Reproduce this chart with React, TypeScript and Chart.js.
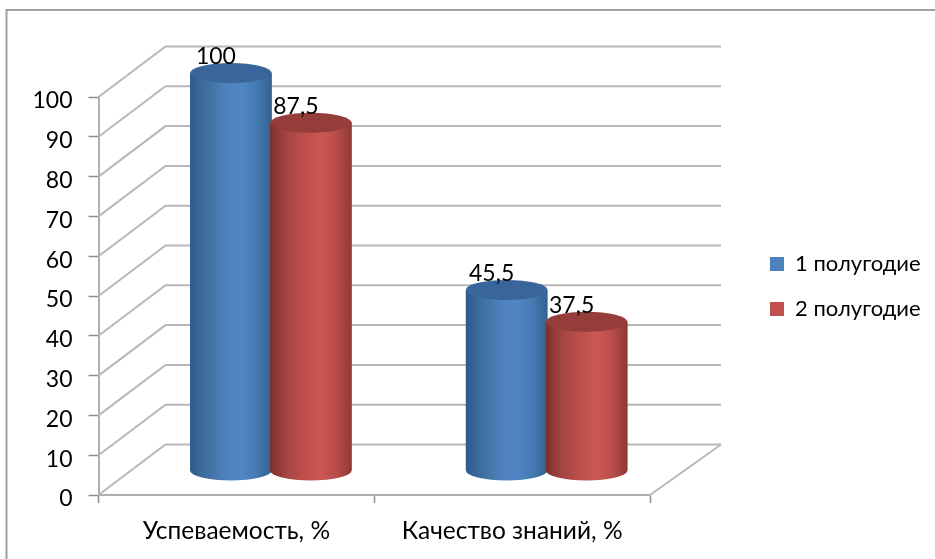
import React, { useEffect, useRef } from "react";
import { Chart, registerables } from "chart.js";

Chart.register(...registerables);

const categories = ["Успеваемость, %", "Качество знаний, %"];
const seriesNames = ["1 полугодие", "2 полугодие"];
const firstHalf = [100, 45.5];
const secondHalf = [87.5, 37.5];
const yTicks = [0, 10, 20, 30, 40, 50, 60, 70, 80, 90, 100];

const FONT = "Lato, 'Noto Sans', sans-serif";
const DEPTH_X = 67;
const DEPTH_Y = -50.5;
const BAR_DX = 34.5;
const BAR_DY = -24;
const RY = 10;

const palettes = [
  { base: "#4F81BD", stops: ["#2E5A8E", "#40709F", "#4F81BD", "#5086C6", "#457AB2", "#35618F"], top: "#39669A" },
  { base: "#C0504D", stops: ["#7C2F2D", "#A54542", "#C0504D", "#CC5855", "#B84C49", "#8E3936"], top: "#953D3A" },
];

const cylinderPlugin = {
  id: "cylinder3d",
  beforeDraw(chart: any) {
    const { ctx, width, height } = chart;
    ctx.save();
    ctx.fillStyle = "#fff";
    ctx.fillRect(0, 0, width, height);
    ctx.strokeStyle = "#A0A0A0";
    ctx.lineWidth = 2;
    ctx.strokeRect(6.5, 10, width + 50, height + 50);
    ctx.restore();
  },
  beforeDatasetsDraw(chart: any) {
    const { ctx, chartArea, scales } = chart;
    ctx.save();
    ctx.strokeStyle = "#B8B8B8";
    ctx.lineWidth = 2;
    scales.y.ticks.forEach((t: any) => {
      const y = scales.y.getPixelForValue(t.value);
      ctx.beginPath();
      ctx.moveTo(chartArea.left, y);
      ctx.lineTo(chartArea.left + DEPTH_X, y + DEPTH_Y);
      ctx.lineTo(chartArea.right + DEPTH_X + 4, y + DEPTH_Y);
      ctx.stroke();
    });
    ctx.beginPath();
    ctx.moveTo(chartArea.right, chartArea.bottom);
    ctx.lineTo(chartArea.right + DEPTH_X + 4, chartArea.bottom + DEPTH_Y);
    ctx.stroke();
    ctx.restore();
    ctx.save();
    ctx.translate(BAR_DX, BAR_DY);
  },
  afterDatasetsDraw(chart: any) {
    const { ctx } = chart;
    chart.data.datasets.forEach((_: any, i: number) => {
      const pal = palettes[i];
      chart.getDatasetMeta(i).data.forEach((el: any) => {
        const { x, y, base, width } = el.getProps(["x", "y", "base", "width"], true);
        const rx = width / 2;
        const grad = ctx.createLinearGradient(x - rx, 0, x + rx, 0);
        pal.stops.forEach((c, k) => {
          grad.addColorStop([0, 0.2, 0.45, 0.62, 0.82, 1][k], c);
        });
        ctx.beginPath();
        ctx.moveTo(x - rx, y);
        ctx.lineTo(x - rx, base);
        ctx.ellipse(x, base, rx, RY, 0, Math.PI, 0, true);
        ctx.lineTo(x + rx, y);
        ctx.closePath();
        ctx.fillStyle = grad;
        ctx.fill();
        ctx.beginPath();
        ctx.ellipse(x, y, rx, RY, 0, 0, Math.PI * 2);
        ctx.fillStyle = pal.top;
        ctx.fill();
      });
    });
    ctx.restore();
    ctx.save();
    ctx.fillStyle = "#000";
    ctx.font = `23px ${FONT}`;
    ctx.textAlign = "center";
    ctx.textBaseline = "middle";
    chart.data.datasets.forEach((ds: any, i: number) => {
      chart.getDatasetMeta(i).data.forEach((el: any, j: number) => {
        const { x, y } = el.getProps(["x", "y"], true);
        ctx.fillText(String(ds.data[j]).replace(".", ","), x + BAR_DX - 15, y + BAR_DY - 16);
      });
    });
    ctx.restore();
  },
  afterLayout(chart: any) {
    const lg = chart.legend;
    if (!lg) return;
    const p = lg.options.labels.padding;
    lg.left = 770 - p;
    lg.right = 935;
    lg.top = 253 - p;
    lg.bottom = 559;
  },
};

export default function App() {
  const ref = useRef<HTMLCanvasElement>(null);
  useEffect(() => {
    document.body.style.margin = "0";
    const chart = new Chart(ref.current as HTMLCanvasElement, {
      type: "bar",
      data: {
        labels: categories,
        datasets: [
          { label: seriesNames[0], data: firstHalf, backgroundColor: palettes[0].base, clip: false as any },
          { label: seriesNames[1], data: secondHalf, backgroundColor: palettes[1].base, clip: false as any },
        ],
      },
      options: {
        responsive: false,
        animation: false,
        devicePixelRatio: 1,
        layout: { padding: { left: 0, top: 97, right: 285, bottom: 0 } },
        datasets: { bar: { categoryPercentage: 0.58, barPercentage: 1.02 } },
        plugins: {
          title: { display: false },
          tooltip: { enabled: false },
          legend: {
            display: true,
            position: "chartArea" as any,
            align: "start",
            labels: {
              boxWidth: 14,
              boxHeight: 14,
              padding: 23,
              color: "#000",
              font: { family: FONT, size: 22 },
            },
          },
        },
        scales: {
          x: {
            afterFit: (s: any) => { s.height = 64; },
            grid: { drawOnChartArea: false, drawTicks: true, tickLength: 8, tickColor: "#8C8C8C", tickWidth: 1.5, offset: true },
            border: { color: "#B0B0B0", width: 2 },
            ticks: { color: "#000", padding: 13, maxRotation: 0, font: { family: FONT, size: 24.5 } },
          },
          y: {
            min: 0,
            max: 100,
            afterFit: (s: any) => { s.width = 98.5; },
            afterBuildTicks: (s: any) => { s.ticks = yTicks.map((value) => ({ value })); },
            grid: { drawOnChartArea: false, drawTicks: true, tickLength: 10, tickColor: "#8C8C8C", tickWidth: 1.5 },
            border: { color: "#B0B0B0", width: 2 },
            ticks: { color: "#000", padding: 16, labelOffset: 4, font: { family: FONT, size: 23 } },
          },
        },
      },
      plugins: [cylinderPlugin],
    } as any);
    return () => chart.destroy();
  }, []);
  return (
    <canvas
      ref={ref}
      width={935}
      height={559}
      style={{ display: "block", position: "absolute", left: 0, top: 0, width: 935, height: 559 }}
    />
  );
}
